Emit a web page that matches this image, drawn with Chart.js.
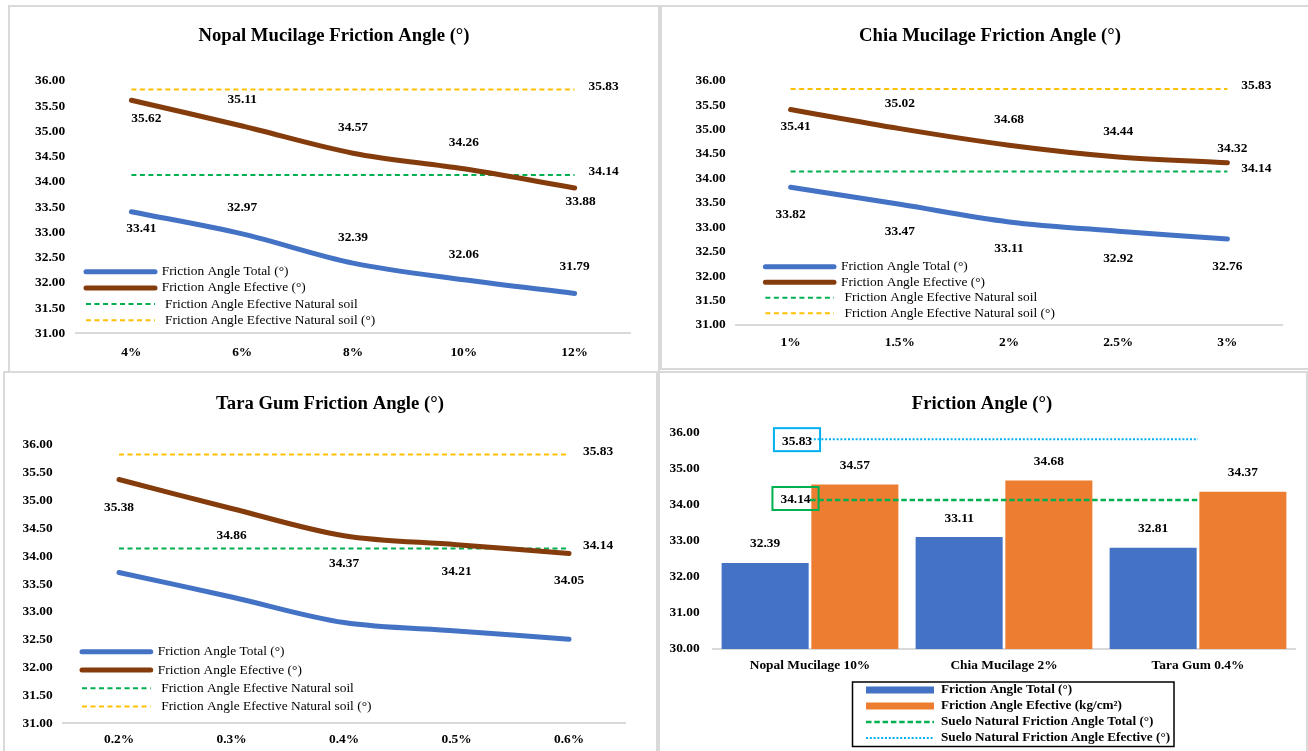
<!DOCTYPE html>
<html>
<head>
<meta charset="utf-8">
<script src="https://cdn.jsdelivr.net/npm/chart.js@4.4.0/dist/chart.umd.min.js"></script>
<style>
  html, body { margin: 0; padding: 0; background: #fff; overflow: hidden; }
  #page { position: relative; width: 1308px; height: 751px; overflow: hidden; background: #fff; }
  .panel { position: absolute; box-sizing: border-box; border: 2px solid #d9d9d9; }
  .plot { position: absolute; }
</style>
</head>
<body>
<div id="page">
  <div class="panel" style="left:8px;top:5px;width:652px;height:368px"></div>
  <div class="panel" style="left:660px;top:5px;width:660px;height:365px"></div>
  <div class="panel" style="left:3px;top:371px;width:655px;height:400px"></div>
  <div class="panel" style="left:658px;top:371px;width:650px;height:400px"></div>

  <canvas id="nopalChart" class="plot" style="left:10px;top:7px;width:648px;height:363px" width="648" height="363"></canvas>
  <canvas id="chiaChart" class="plot" style="left:661px;top:7px;width:658px;height:361px" width="658" height="361"></canvas>
  <canvas id="taraChart" class="plot" style="left:5px;top:374px;width:650px;height:377px" width="650" height="377"></canvas>
  <canvas id="blendChart" class="plot" style="left:658px;top:374px;width:648px;height:377px" width="648" height="377"></canvas>
</div>

<script>
// ---- data ----
const nopalDoses = ['4%', '6%', '8%', '10%', '12%'];
const nopalTotal = [33.41, 32.97, 32.39, 32.06, 31.79];
const nopalEfective = [35.62, 35.11, 34.57, 34.26, 33.88];

const chiaDoses = ['1%', '1.5%', '2%', '2.5%', '3%'];
const chiaTotal = [33.82, 33.47, 33.11, 32.92, 32.76];
const chiaEfective = [35.41, 35.02, 34.68, 34.44, 34.32];

const taraDoses = ['0.2%', '0.3%', '0.4%', '0.5%', '0.6%'];
const taraTotal = [33.71, 33.27, 32.81, 32.66, 32.51];
const taraEfective = [35.38, 34.86, 34.37, 34.21, 34.05];

const soilTotal = 34.14;      // natural soil, total friction angle
const soilEfective = 35.83;   // natural soil, effective friction angle

const blendNames = ['Nopal Mucilage 10%', 'Chia Mucilage 2%', 'Tara Gum 0.4%'];
const blendTotal = [32.39, 33.11, 32.81];
const blendEfective = [34.57, 34.68, 34.37];

const lineTicks = { min: 31, max: 36, step: 0.5 };
const barTicks = { min: 30, max: 36, step: 1 };

// ---- styling ----
const SERIF = '"Liberation Serif", "Times New Roman", serif';
const BLUE = '#4472C4', BROWN = '#843C0C', ORANGE = '#ED7D31';
const GREEN = '#00B050', YELLOW = '#FFC000', SKY = '#00B0F0';

Chart.defaults.font.family = SERIF;
Chart.defaults.color = '#000';

// writes the value beside selected points / bars
const valueLabels = {
  id: 'valueLabels',
  afterDatasetsDraw(chart, args, opts) {
    const ctx = chart.ctx;
    chart.data.datasets.forEach((ds, i) => {
      const meta = chart.getDatasetMeta(i);
      if (!ds.labelOffsets || meta.hidden) return;
      meta.data.forEach((el, j) => {
        const off = ds.labelOffsets[j];
        if (!off) return;
        const x = el.x + off[0];
        const y = el.y + off[1];
        const text = Number(ds.data[j]).toFixed(2);
        ctx.save();
        ctx.font = 'bold ' + opts.size + 'px ' + SERIF;
        ctx.fillStyle = '#000';
        ctx.textAlign = 'center';
        ctx.textBaseline = 'middle';
        ctx.fillText(text, x, y);
        if (ds.labelBox) {
          const w = ctx.measureText(text).width + 16;
          ctx.strokeStyle = ds.labelBox;
          ctx.lineWidth = 2;
          ctx.strokeRect(x - w / 2, y - 13, w, 23);
        }
        ctx.restore();
      });
    });
  }
};

// legend drawn inside the plot area (line charts) or as a framed box (bar chart)
const panelLegend = {
  id: 'panelLegend',
  afterDraw(chart, args, o) {
    if (!o || !o.display) return;
    const ctx = chart.ctx;
    ctx.save();
    if (o.frame) {
      ctx.strokeStyle = '#000';
      ctx.lineWidth = 1.5;
      ctx.strokeRect(o.frame[0], o.frame[1], o.frame[2], o.frame[3]);
    }
    chart.data.datasets.forEach((ds, i) => {
      const y = o.y + i * o.rowGap;
      const x0 = o.x, x1 = o.x + o.sampleLength;
      const isBar = (ds.type || chart.config.type) === 'bar';
      if (isBar) {
        ctx.fillStyle = ds.backgroundColor;
        ctx.fillRect(x0, y - 3.5, x1 - x0, 7);
      } else {
        ctx.strokeStyle = ds.borderColor;
        ctx.lineWidth = ds.borderWidth;
        ctx.setLineDash(ds.borderDash || []);
        ctx.lineCap = ds.borderDash ? 'butt' : 'round';
        ctx.beginPath();
        ctx.moveTo(x0, y);
        ctx.lineTo(x1, y);
        ctx.stroke();
        ctx.setLineDash([]);
      }
      ctx.font = (o.bold ? 'bold ' : '') + o.size + 'px ' + SERIF;
      ctx.fillStyle = '#000';
      ctx.textAlign = 'left';
      ctx.textBaseline = 'middle';
      const tx = x0 + ((ds.borderDash && !o.frame) ? o.dashedTextOffset : o.textOffset);
      ctx.fillText(ds.label, tx, y);
    });
    ctx.restore();
  }
};

function tickFont() { return { family: SERIF, size: 13.4, weight: 'bold' }; }

function buildScales(L, t) {
  return {
    x: {
      type: 'category',
      offset: true,
      grid: { display: false, drawTicks: false },
      border: { display: true, color: '#d9d9d9', width: 2 },
      ticks: { color: '#000', font: tickFont(), padding: L.xPad, maxRotation: 0, autoSkip: false },
      afterFit: s => { s.height = L.xHeight; }
    },
    y: {
      min: t.min, max: t.max,
      grid: { display: false, drawTicks: false },
      border: { display: false },
      ticks: { stepSize: t.step, color: '#000', font: tickFont(), padding: L.yPad,
               callback: v => Number(v).toFixed(2) },
      afterFit: s => { s.width = L.yWidth; }
    },
    // empty margin on the right of the plot (no ticks, no line)
    rightMargin: {
      type: 'linear', position: 'right', display: true,
      grid: { display: false, drawTicks: false },
      border: { display: false },
      ticks: { display: false },
      afterFit: s => { s.width = L.right; }
    }
  };
}

function titleOpts(text, L) {
  return {
    display: true, text, color: '#000',
    font: { family: SERIF, size: 18.7, weight: 'bold' },
    padding: { top: L.titleTop, bottom: L.titleBottom }
  };
}

function lineChart(canvasId, title, doses, total, efective, L) {
  const constant = v => doses.map(() => v);
  const last = off => doses.map((d, i) => i === doses.length - 1 ? off : null);
  return new Chart(document.getElementById(canvasId), {
    type: 'line',
    data: {
      labels: doses,
      datasets: [
        { label: 'Friction Angle Total (°)', data: total, borderColor: BLUE, backgroundColor: BLUE,
          borderWidth: 5, tension: 0.33, pointRadius: 0, borderCapStyle: 'round', borderJoinStyle: 'round',
          labelOffsets: L.totalOffsets },
        { label: 'Friction Angle Efective (°)', data: efective, borderColor: BROWN, backgroundColor: BROWN,
          borderWidth: 5, tension: 0.33, pointRadius: 0, borderCapStyle: 'round', borderJoinStyle: 'round',
          labelOffsets: L.efectiveOffsets },
        { label: 'Friction Angle Efective Natural soil', data: constant(soilTotal), borderColor: GREEN,
          borderWidth: 2, borderDash: [5, 3.5], pointRadius: 0, labelOffsets: last([29, -3]) },
        { label: 'Friction Angle Efective Natural soil (°)', data: constant(soilEfective), borderColor: YELLOW,
          borderWidth: 2, borderDash: [5, 3.5], pointRadius: 0, labelOffsets: last([29, -3]) }
      ]
    },
    options: {
      responsive: false, animation: false,
      layout: { padding: 0 },
      scales: buildScales(L, lineTicks),
      plugins: {
        title: titleOpts(title, L),
        legend: { display: false },
        tooltip: { enabled: false },
        valueLabels: { size: 13.4 },
        panelLegend: Object.assign({ display: true, size: 13.4, bold: false }, L.legend)
      }
    },
    plugins: [valueLabels, panelLegend]
  });
}

lineChart('nopalChart', 'Nopal Mucilage Friction Angle (°)', nopalDoses, nopalTotal, nopalEfective, {
  yWidth: 66, right: 28, xHeight: 36.7, xPad: 11, yPad: 10.8, titleTop: 17.8, titleBottom: 33.8,
  totalOffsets: [[10, 17], [0, -26], [0, -26], [0, -25], [0, -27]],
  efectiveOffsets: [[15, 18], [0, -26], [0, -26], [0, -26], [6, 14]],
  legend: { x: 76, y: 264.7, rowGap: 16.2, sampleLength: 69, textOffset: 75.7, dashedTextOffset: 79 }
});

lineChart('chiaChart', 'Chia Mucilage Friction Angle (°)', chiaDoses, chiaTotal, chiaEfective, {
  yWidth: 75, right: 37, xHeight: 43, xPad: 9.6, yPad: 10.3, titleTop: 17.8, titleBottom: 33.5,
  totalOffsets: [[0, 27], [0, 27], [0, 27], [0, 27], [0, 28]],
  efectiveOffsets: [[5, 17], [0, -25], [0, -26], [0, -25], [5, -14.5]],
  legend: { x: 104.4, y: 259.7, rowGap: 15.5, sampleLength: 68.6, textOffset: 75.6, dashedTextOffset: 79.2 }
});

lineChart('taraChart', 'Tara Gum Friction Angle (°)', taraDoses, taraTotal, taraEfective, {
  yWidth: 57.75, right: 29.7, xHeight: 27.7, xPad: 8, yPad: 10.1, titleTop: 18.8, titleBottom: 29.8,
  totalOffsets: null,
  efectiveOffsets: [[0, 28], [0, 27], [0, 27.5], [0, 27], [0, 27]],
  legend: { x: 77, y: 277.7, rowGap: 18.3, sampleLength: 68.7, textOffset: 75.8, dashedTextOffset: 79.2 }
});

// summary bar chart: best dose of each additive against the natural soil
(function () {
  const L = { yWidth: 55, right: 11, xHeight: 102, xPad: 8.7, yPad: 13.4, titleTop: 19.1, titleBottom: 17.5 };
  const constant = v => blendNames.map(() => v);
  const first = off => blendNames.map((d, i) => i === 0 ? off : null);
  const above = blendNames.map(() => [0, -19]);
  new Chart(document.getElementById('blendChart'), {
    type: 'bar',
    data: {
      labels: blendNames,
      datasets: [
        { label: 'Friction Angle Total (°)', data: blendTotal, backgroundColor: BLUE,
          categoryPercentage: 0.925, barPercentage: 0.97, order: 2, labelOffsets: above },
        { label: 'Friction Angle Efective (kg/cm²)', data: blendEfective, backgroundColor: ORANGE,
          categoryPercentage: 0.925, barPercentage: 0.97, order: 2, labelOffsets: above },
        { type: 'line', label: 'Suelo Natural Friction Angle Total (°)', data: constant(soilTotal),
          borderColor: GREEN, borderWidth: 2.5, borderDash: [5.5, 2.8], pointRadius: 0, order: 1,
          labelOffsets: first([-14.5, 0]), labelBox: GREEN },
        { type: 'line', label: 'Suelo Natural Friction Angle Efective (°)', data: constant(soilEfective),
          borderColor: SKY, borderWidth: 2, borderDash: [2, 1.8], pointRadius: 0, order: 1,
          labelOffsets: first([-13, 2]), labelBox: SKY }
      ]
    },
    options: {
      responsive: false, animation: false,
      layout: { padding: 0 },
      scales: buildScales(L, barTicks),
      plugins: {
        title: titleOpts('Friction Angle (°)', L),
        legend: { display: false },
        tooltip: { enabled: false },
        valueLabels: { size: 13.4 },
        panelLegend: { display: true, size: 13.2, bold: true, frame: [194.5, 308, 321.5, 64.5],
                       x: 208, y: 316, rowGap: 16, sampleLength: 68, textOffset: 75, dashedTextOffset: 75 }
      }
    },
    plugins: [valueLabels, panelLegend]
  });
})();
</script>
</body>
</html>
